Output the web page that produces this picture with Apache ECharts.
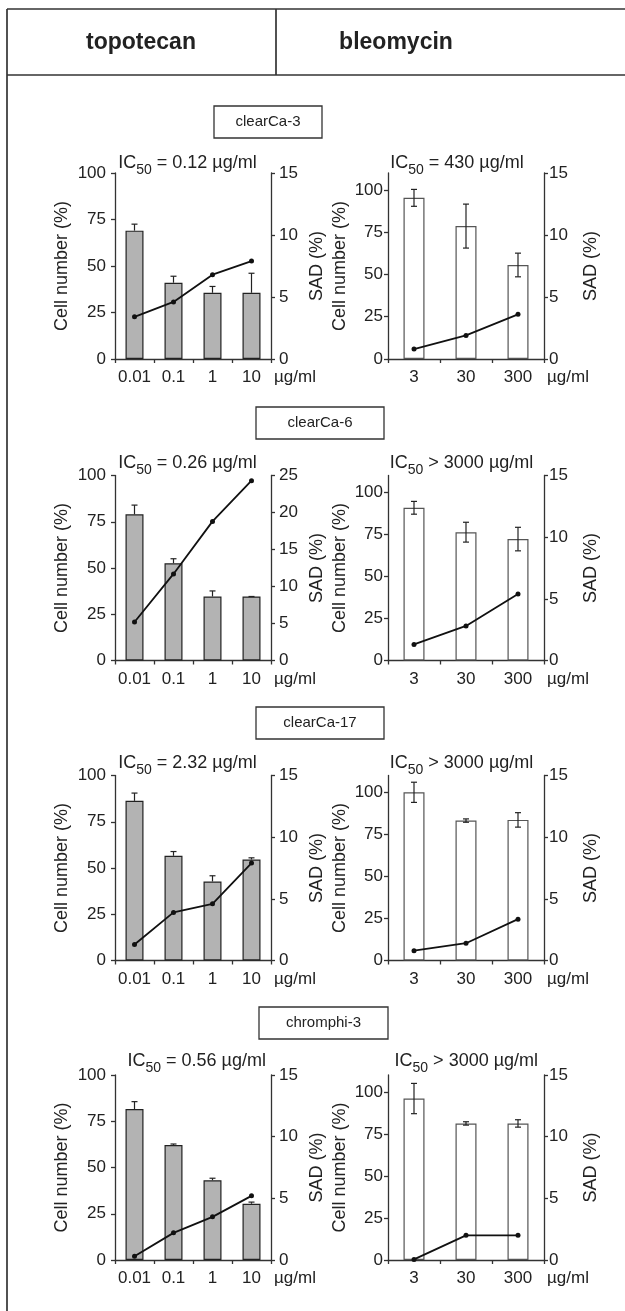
<!DOCTYPE html>
<html>
<head>
<meta charset="utf-8">
<script src="https://cdn.jsdelivr.net/npm/echarts@6/dist/echarts.min.js"></script>
<style>
  html, body { margin: 0; padding: 0; background: #fff; }
  #chart { width: 625px; height: 1311px; }
</style>
</head>
<body>
<div id="chart"></div>
<script>
// data
const cellLines = ['clearCa-3', 'clearCa-6', 'clearCa-17', 'chromphi-3'];
const topoDoses = ['0.01', '0.1', '1', '10'];
const bleoDoses = ['3', '30', '300'];
const topoIc50 = ['= 0.12', '= 0.26', '= 2.32', '= 0.56'];
const bleoIc50 = ['= 430', '> 3000', '> 3000', '> 3000'];

// cell number (%) with upper error
const topoCell = [[69, 41, 35.6, 35.6], [79, 52.6, 34.6, 34.6], [86.3, 56.6, 42.7, 54.6], [81.6, 62.2, 43.1, 30.4]];
const topoCellErr = [[3.5, 3.5, 3.4, 10.5], [5, 2.4, 3, 0], [4.2, 2.3, 3.1, 0.9], [4, 0.5, 1.1, 0.9]];
// SAD (%)
const topoSad = [[3.4, 4.6, 6.8, 7.9], [5.2, 11.7, 18.8, 24.3], [1.3, 3.9, 4.6, 7.9], [0.3, 2.2, 3.5, 5.2]];
const topoSadMax = [15, 25, 15, 15];

const bleoCell = [[95.3, 78.6, 55.6], [90.8, 76.3, 72.2], [100, 83.2, 83.6], [96, 81.2, 81.2]];
const bleoCellErr = [[5, 13, 7], [3.8, 5.9, 7], [6, 1, 4.3], [9, 1, 2.2]];
const bleoSad = [[0.8, 1.9, 3.6], [1.3, 2.8, 5.4], [0.8, 1.4, 3.35], [0.05, 2, 2]];

const cellTicks = [0, 25, 50, 75, 100];

// layout
const gridTop = [173, 475.5, 775.5, 1075];
const gridH = [186, 185, 185, 185];
const boxPos = [[214, 106, 108], [256, 407, 128], [256, 707, 128], [259, 1007, 129]];
const titleLeftX = [187.5, 187.5, 187.5, 196.7];
const titleRightX = [457, 461.5, 461.5, 466.3];
const titleY = [160, 460, 760, 1057.7];

const FONT = 'Liberation Sans, Arial, sans-serif';
const INK = '#222';
const axisLineStyle = { color: '#333', width: 1.3 };

const chart = echarts.init(document.getElementById('chart'));

function renderErr(params, api) {
  const x = api.value(0);
  const lo = api.coord([x, api.value(1)]);
  const hi = api.coord([x, api.value(2)]);
  const both = api.value(3);
  const w = 3;
  const st = { stroke: '#222', lineWidth: 1.2 };
  const children = [
    { type: 'line', shape: { x1: lo[0], y1: lo[1], x2: hi[0], y2: hi[1] }, style: st },
    { type: 'line', shape: { x1: hi[0] - w, y1: hi[1], x2: hi[0] + w, y2: hi[1] }, style: st }
  ];
  if (both) {
    children.push({ type: 'line', shape: { x1: lo[0] - w, y1: lo[1], x2: lo[0] + w, y2: lo[1] }, style: st });
  }
  return { type: 'group', children: children };
}

function yAxisBase(extra) {
  return Object.assign({
    type: 'value',
    min: 0,
    splitLine: { show: false },
    axisLine: { show: true, lineStyle: axisLineStyle },
    axisTick: { show: true, length: 4, lineStyle: axisLineStyle },
    nameLocation: 'middle',
    nameTextStyle: { fontSize: 18, color: INK, fontFamily: FONT }
  }, extra);
}

function xAxisBase(gridIndex, data) {
  return {
    type: 'category',
    gridIndex: gridIndex,
    data: data,
    name: 'µg/ml',
    nameLocation: 'end',
    nameGap: 3,
    nameTextStyle: { fontSize: 17, color: INK, fontFamily: FONT, align: 'left', verticalAlign: 'top', padding: [10, 0, 0, 0] },
    axisLine: { show: true, lineStyle: axisLineStyle },
    axisTick: { show: true, length: 4, lineStyle: axisLineStyle },
    axisLabel: { fontSize: 17, color: INK, fontFamily: FONT, margin: 10, interval: 0, hideOverlap: false },
    splitLine: { show: false }
  };
}

const grids = [];
const xAxes = [];
const yAxes = [];
const series = [];
const graphics = [];

// frame
const frameStyle = { stroke: '#333', lineWidth: 1.7 };
graphics.push(
  { type: 'line', shape: { x1: 7, y1: 9, x2: 625, y2: 9 }, style: frameStyle },
  { type: 'line', shape: { x1: 7, y1: 75, x2: 625, y2: 75 }, style: frameStyle },
  { type: 'line', shape: { x1: 7, y1: 9, x2: 7, y2: 1311 }, style: frameStyle },
  { type: 'line', shape: { x1: 276, y1: 9, x2: 276, y2: 75 }, style: frameStyle },
  { type: 'text', x: 141, y: 43, style: { text: 'topotecan', fontSize: 23, fontWeight: 'bold', fontFamily: FONT, fill: INK, align: 'center', verticalAlign: 'middle' } },
  { type: 'text', x: 396, y: 43, style: { text: 'bleomycin', fontSize: 23, fontWeight: 'bold', fontFamily: FONT, fill: INK, align: 'center', verticalAlign: 'middle' } }
);

const titleRich = {
  a: { fontSize: 18, fontFamily: FONT, fill: INK, color: INK },
  s: { fontSize: 14, fontFamily: FONT, fill: INK, color: INK, padding: [14, 0, 0, 0] }
};

for (let r = 0; r < 4; r++) {
  // cell line label box
  const b = boxPos[r];
  graphics.push(
    { type: 'rect', shape: { x: b[0], y: b[1], width: b[2], height: 32 }, style: { fill: '#fff', stroke: '#333', lineWidth: 1.3 } },
    { type: 'text', x: b[0] + b[2] / 2, y: b[1] + 16, style: { text: cellLines[r], fontSize: 15, fontFamily: FONT, fill: INK, align: 'center', verticalAlign: 'middle' } },
    { type: 'text', x: titleLeftX[r], y: titleY[r] + 3, style: { text: '{a|IC}{s|50}{a| ' + topoIc50[r] + ' µg/ml}', rich: titleRich, align: 'center', verticalAlign: 'middle' } },
    { type: 'text', x: titleRightX[r], y: titleY[r] + 3, style: { text: '{a|IC}{s|50}{a| ' + bleoIc50[r] + ' µg/ml}', rich: titleRich, align: 'center', verticalAlign: 'middle' } }
  );

  const gl = 2 * r, gr = 2 * r + 1;
  grids.push({ left: 115, top: gridTop[r], width: 156, height: gridH[r] });
  grids.push({ left: 388, top: gridTop[r], width: 156, height: gridH[r] });

  xAxes.push(xAxisBase(gl, topoDoses));
  xAxes.push(xAxisBase(gr, bleoDoses));

  // topotecan axes
  yAxes.push(yAxisBase({
    gridIndex: gl, max: 100, interval: 25, position: 'left',
    name: 'Cell number (%)', nameGap: 44,
    axisLabel: { fontSize: 17, color: INK, fontFamily: FONT, margin: 9 }
  }));
  yAxes.push(yAxisBase({
    gridIndex: gl, max: topoSadMax[r], interval: 5, position: 'right',
    name: 'SAD (%)', nameGap: 37, nameRotate: 90,
    axisLabel: { fontSize: 17, color: INK, fontFamily: FONT, margin: 8 }
  }));
  // bleomycin axes
  yAxes.push(yAxisBase({
    gridIndex: gr, max: 110, interval: 25, position: 'left',
    name: 'Cell number (%)', nameGap: 39,
    axisLabel: { fontSize: 17, color: INK, fontFamily: FONT, margin: 5, customValues: cellTicks },
    axisTick: { show: true, length: 4, lineStyle: axisLineStyle, customValues: cellTicks }
  }));
  yAxes.push(yAxisBase({
    gridIndex: gr, max: 15, interval: 5, position: 'right',
    name: 'SAD (%)', nameGap: 38, nameRotate: 90,
    axisLabel: { fontSize: 17, color: INK, fontFamily: FONT, margin: 5 }
  }));

  const ya = 4 * r;

  series.push({
    type: 'bar', xAxisIndex: gl, yAxisIndex: ya, barWidth: 18,
    itemStyle: { color: '#b3b3b3', borderColor: '#222', borderWidth: 1.2 },
    data: topoCell[r]
  });
  series.push({
    type: 'custom', xAxisIndex: gl, yAxisIndex: ya, z: 3,
    renderItem: renderErr,
    data: topoCell[r].map((v, i) => [i, v, v + topoCellErr[r][i], 0])
  });
  series.push({
    type: 'line', xAxisIndex: gl, yAxisIndex: ya + 1, z: 4,
    symbol: 'circle', symbolSize: 5,
    lineStyle: { color: '#111', width: 1.8 }, itemStyle: { color: '#111' },
    data: topoSad[r]
  });

  series.push({
    type: 'bar', xAxisIndex: gr, yAxisIndex: ya + 2, barWidth: 21,
    itemStyle: { color: '#fff', borderColor: '#555', borderWidth: 1.2 },
    data: bleoCell[r]
  });
  series.push({
    type: 'custom', xAxisIndex: gr, yAxisIndex: ya + 2, z: 3,
    renderItem: renderErr,
    data: bleoCell[r].map((v, i) => [i, v - bleoCellErr[r][i], v + bleoCellErr[r][i], 1])
  });
  series.push({
    type: 'line', xAxisIndex: gr, yAxisIndex: ya + 3, z: 4,
    symbol: 'circle', symbolSize: 5,
    lineStyle: { color: '#111', width: 1.8 }, itemStyle: { color: '#111' },
    data: bleoSad[r]
  });
}

chart.setOption({
  animation: false,
  backgroundColor: '#fff',
  textStyle: { fontFamily: FONT },
  grid: grids,
  xAxis: xAxes,
  yAxis: yAxes,
  series: series,
  graphic: graphics
});
</script>
</body>
</html>
